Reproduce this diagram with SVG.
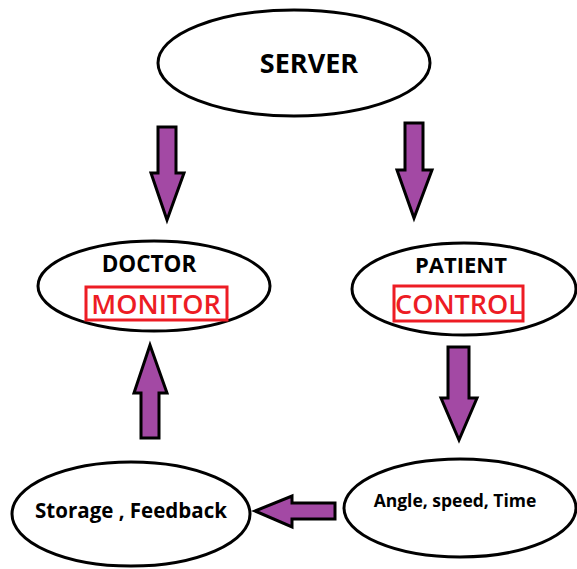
<svg xmlns="http://www.w3.org/2000/svg" width="577" height="569" viewBox="0 0 577 569">
<style>
.node{fill:#fff;stroke:#000;stroke-width:3}
.arrow{fill:#A349A4;stroke:#000;stroke-width:3;stroke-linejoin:miter}
.t{font-family:"Open Sans","Liberation Sans",sans-serif;font-weight:700;fill:#000;text-anchor:middle}
.r{font-family:"Open Sans","Liberation Sans",sans-serif;font-weight:600;fill:#ED1C24;text-anchor:middle}
.box{fill:none;stroke:#ED1C24;stroke-width:3}
</style>
<rect width="577" height="569" fill="#fff"/>
<g id="server">
<ellipse class="node" cx="294" cy="63" rx="136" ry="53"/>
<text class="t" x="309" y="73" font-size="27">SERVER</text>
</g>
<g id="doctor">
<ellipse class="node" cx="154" cy="286" rx="116" ry="45"/>
<text class="t" x="149" y="272" font-size="22.5">DOCTOR</text>
<rect class="box" x="86" y="287" width="141" height="33"/>
<text class="r" x="156" y="314" font-size="27">MONITOR</text>
</g>
<g id="patient">
<ellipse class="node" cx="464" cy="289" rx="112" ry="46"/>
<text class="t" x="461" y="273" font-size="22">PATIENT</text>
<rect class="box" x="394" y="286" width="129" height="35"/>
<text class="r" x="459" y="314" font-size="27">CONTROL</text>
</g>
<g id="storage">
<ellipse class="node" cx="131" cy="514" rx="119" ry="52"/>
<text class="t" x="131" y="518" font-size="20.5">Storage , Feedback</text>
</g>
<g id="params">
<ellipse class="node" cx="460" cy="508" rx="116" ry="49"/>
<text class="t" x="455" y="507" font-size="17.5">Angle, speed, Time</text>
</g>
<g id="connectors">
<polygon class="arrow" points="158,127 176,127 176,173 184,173 167,220 151,173 158,173"/>
<polygon class="arrow" points="405,123 423,123 423,170 432,170 414,218 397,170 405,170"/>
<polygon class="arrow" points="141,438 159,438 159,393 167,393 150,345 134,393 141,393"/>
<polygon class="arrow" points="448,347 469,347 469,398 477,398 459,440 441,398 448,398"/>
<polygon class="arrow" points="335,503 335,519 292,519 292,527 255,511 292,496 292,503"/>
</g>
</svg>
